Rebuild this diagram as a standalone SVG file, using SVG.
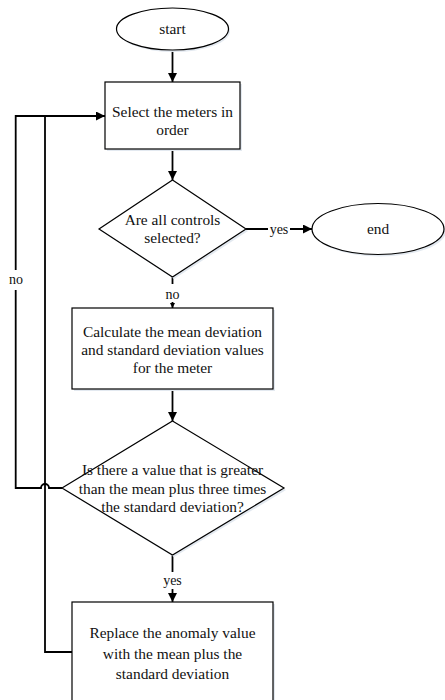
<svg xmlns="http://www.w3.org/2000/svg" width="445" height="700" viewBox="0 0 445 700">
<style>
.shape{fill:#ffffff;stroke:#000;stroke-width:1.2}
.shadow{fill:#e3e9f0;stroke:none}
.conn{fill:none;stroke:#000;stroke-width:1.8}
text{font-family:"Liberation Serif","Times New Roman",serif;font-size:15.4px;fill:#111;text-anchor:middle}
.lbl{font-size:14px}
</style>
<defs>
<marker id="arr" viewBox="0 0 10 10" refX="10" refY="5" markerWidth="10" markerHeight="9" markerUnits="userSpaceOnUse" orient="auto">
<path d="M0,0 L10,5 L0,10 z" fill="#000"/>
</marker>
<marker id="arrs" viewBox="0 0 10 10" refX="10" refY="5" markerWidth="5" markerHeight="5" markerUnits="userSpaceOnUse" orient="auto">
<path d="M0,0 L10,5 L0,10 z" fill="#000"/>
</marker>
</defs>
<rect width="445" height="700" fill="#fff"/>
<g id="connectors">
<path class="conn" d="M172.5,50 V82" marker-end="url(#arr)"/>
<path class="conn" d="M172.5,149 V180" marker-end="url(#arr)"/>
<path class="conn" d="M246,229 H268 M290,229 H312" marker-end="url(#arr)"/>
<path class="conn" d="M172.5,277 V284" />
<path class="conn" d="M172.5,302 V308" marker-end="url(#arrs)"/>
<path class="conn" d="M172.5,389 V421" marker-end="url(#arr)"/>
<path class="conn" d="M172.5,555 V572" />
<path class="conn" d="M172.5,589 V602" marker-end="url(#arr)"/>
<path class="conn" d="M62,488 H49 A4,4 0 0 0 41,488 H15.7 V290 M15.7,270 V116 H105" marker-end="url(#arr)"/>
<path class="conn" d="M72,652 H45 V116"/>
<text class="lbl" x="279" y="233.5">yes</text>
<text class="lbl" x="172.5" y="299">no</text>
<text class="lbl" x="172.5" y="585">yes</text>
<text class="lbl" x="16" y="284">no</text>
</g>
<g id="start">
<ellipse class="shadow" cx="174" cy="31" rx="56" ry="21"/>
<ellipse class="shape" cx="172.5" cy="29" rx="56" ry="21"/>
<text x="172.5" y="34">start</text>
</g>
<g id="select">
<rect class="shadow" x="107" y="84" width="135" height="67"/>
<rect class="shape" x="105" y="82" width="135" height="67"/>
<text x="172.5" y="117">Select the meters in</text>
<text x="172.5" y="135">order</text>
</g>
<g id="decision1">
<polygon class="shadow" points="174,182 248,231 174,279 101,231"/>
<polygon class="shape" points="172.5,180 246,229 172.5,277 99,229"/>
<text x="172.5" y="225">Are all controls</text>
<text x="172.5" y="243">selected?</text>
</g>
<g id="end">
<ellipse class="shadow" cx="380" cy="231" rx="66" ry="25.5"/>
<ellipse class="shape" cx="378" cy="229" rx="66" ry="25.5"/>
<text x="378" y="234">end</text>
</g>
<g id="calculate">
<rect class="shadow" x="74" y="310" width="201" height="81"/>
<rect class="shape" x="72" y="308" width="201" height="81"/>
<text x="172.5" y="337">Calculate the mean deviation</text>
<text x="172.5" y="355">and standard deviation values</text>
<text x="172.5" y="373">for the meter</text>
</g>
<g id="decision2">
<polygon class="shadow" points="174,423 286,490 174,557 64,490"/>
<polygon class="shape" points="172.5,421 284,488 172.5,555 62,488"/>
<text x="172.5" y="475">Is there a value that is greater</text>
<text x="172.5" y="494">than the mean plus three times</text>
<text x="172.5" y="512">the standard deviation?</text>
</g>
<g id="replace">
<rect class="shadow" x="74" y="604" width="201" height="110"/>
<rect class="shape" x="72" y="602" width="201" height="110"/>
<text x="172.5" y="638">Replace the anomaly value</text>
<text x="172.5" y="659">with the mean plus the</text>
<text x="172.5" y="679">standard deviation</text>
</g>
</svg>
